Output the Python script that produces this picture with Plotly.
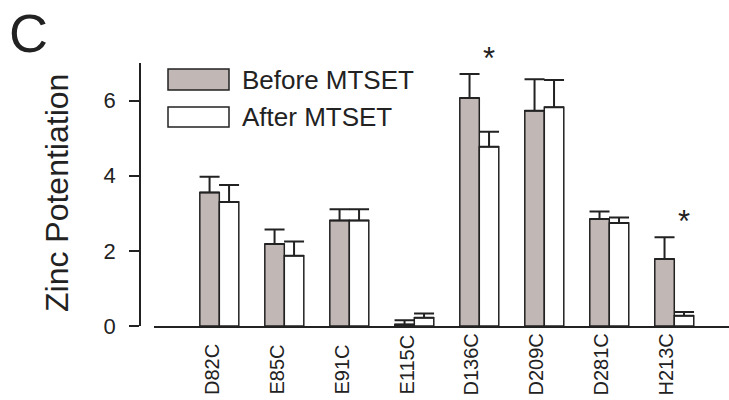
import plotly.graph_objects as go

# ---- data ----
categories = ["D82C", "E85C", "E91C", "E115C", "D136C", "D209C", "D281C", "H213C"]
before = [3.55, 2.18, 2.81, 0.04, 6.07, 5.73, 2.85, 1.78]
before_err = [0.42, 0.39, 0.30, 0.11, 0.64, 0.84, 0.20, 0.58]
after = [3.30, 1.87, 2.81, 0.22, 4.77, 5.82, 2.74, 0.27]
after_err = [0.45, 0.38, 0.30, 0.11, 0.40, 0.73, 0.15, 0.10]
significant = [False, False, False, False, True, False, False, True]
y_ticks = [0, 2, 4, 6]
series_names = ["Before MTSET", "After MTSET"]

# ---- style ----
W, H = 729, 400
ML, MR, MT, MB = 140, 0, 63, 74
PW, PH = W - ML - MR, H - MT - MB
Y_MAX = 7
FONT = "Liberation Sans, Arial, sans-serif"
INK = "#222222"
GREY = "#c1b7b4"


def px_x(p):
    return (p - ML) / PW


def px_y(p):
    return (H - MB - p) / PH


fig = go.Figure()
for name, vals, errs, color in [
    (series_names[0], before, before_err, GREY),
    (series_names[1], after, after_err, "#ffffff"),
]:
    fig.add_trace(go.Bar(
        x=categories, y=vals, name=name,
        marker=dict(color=color, line=dict(color=INK, width=1.5)),
        error_y=dict(type="data", symmetric=False, array=errs,
                     arrayminus=[0] * len(errs), color=INK,
                     thickness=2, width=10),
        showlegend=False, cliponaxis=False,
    ))

annotations = []
shapes = []

# category labels (rotated, bottom aligned)
for i, c in enumerate(categories):
    annotations.append(dict(
        x=i - 0.12, xref="x", y=px_y(397), yref="paper",
        text=c, textangle=-90, showarrow=False,
        xanchor="center", yanchor="bottom",
        font=dict(family=FONT, size=20, color=INK),
    ))

# significance stars (placed above the highest error bar of the group)
for i, s in enumerate(significant):
    if s:
        top = max(before[i] + before_err[i], after[i] + after_err[i])
        annotations.append(dict(
            x=i + 0.15, xref="x", y=(top + 0.42) / Y_MAX, yref="paper",
            text="*", showarrow=False, xanchor="center", yanchor="middle",
            font=dict(family=FONT, size=31, color=INK),
        ))

# legend drawn as swatches + text
legend_rows = [(69, 90, GREY, series_names[0]), (107, 127, "#ffffff", series_names[1])]
for top, bot, col, label in legend_rows:
    shapes.append(dict(
        type="rect", xref="paper", yref="paper",
        x0=px_x(168), x1=px_x(229), y0=px_y(bot), y1=px_y(top),
        fillcolor=col, line=dict(color=INK, width=1.5),
    ))
    annotations.append(dict(
        x=px_x(240), xref="paper", y=px_y((top + bot) / 2), yref="paper",
        text=label, showarrow=False, xanchor="left", yanchor="middle",
        font=dict(family=FONT, size=26, color=INK),
    ))

# y-axis title
annotations.append(dict(
    x=px_x(57), xref="paper", y=px_y(193), yref="paper",
    text="Zinc Potentiation", textangle=-90, showarrow=False,
    xanchor="center", yanchor="middle",
    font=dict(family=FONT, size=32, color=INK),
))

# panel letter
annotations.append(dict(
    x=px_x(7), xref="paper", y=px_y(33), yref="paper",
    text="C", showarrow=False, xanchor="left", yanchor="middle",
    font=dict(family=FONT, size=54, color=INK),
))

fig.update_layout(
    width=W, height=H,
    margin=dict(l=ML, r=MR, t=MT, b=MB, pad=0),
    paper_bgcolor="white", plot_bgcolor="white",
    barmode="group", bargap=0.4, bargroupgap=0,
    xaxis=dict(
        type="category", categoryorder="array", categoryarray=categories,
        domain=[px_x(154), 1], range=[-1.005, 7.842],
        showline=True, linecolor=INK, linewidth=1.5,
        ticks="", showticklabels=False, showgrid=False, zeroline=False,
    ),
    yaxis=dict(
        anchor="free", position=0, range=[0, Y_MAX],
        showline=True, linecolor=INK, linewidth=1.5,
        ticks="outside", ticklen=10, tickwidth=1.5, tickcolor=INK,
        tickvals=y_ticks, ticklabelstandoff=9,
        tickfont=dict(family=FONT, size=22, color=INK),
        showgrid=False, zeroline=False,
    ),
    annotations=annotations, shapes=shapes,
)

fig.write_html("out.html")
